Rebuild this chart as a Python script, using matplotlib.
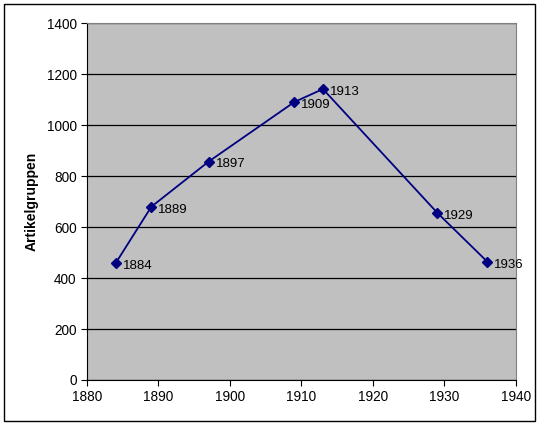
import matplotlib.pyplot as plt
from matplotlib.patches import Rectangle

plt.rcParams['font.family'] = ['Liberation Sans', 'DejaVu Sans']

years = [1884, 1889, 1897, 1909, 1913, 1929, 1936]
groups = [458, 680, 857, 1091, 1142, 656, 464]
labels = ['1884', '1889', '1897', '1909', '1913', '1929', '1936']

fig = plt.figure(figsize=(5.39, 4.25), dpi=100)
ax = fig.add_axes([0.1614, 0.1059, 0.7959, 0.8393])
ax.set_facecolor('#c0c0c0')

ax.plot(years, groups, color='#000080', lw=1.3, marker='D', ms=5, zorder=3)
for x, y, t in zip(years, groups, labels):
    ax.annotate(t, (x, y), xytext=(5, -2), textcoords='offset points',
                va='center', ha='left', fontsize=9.5, zorder=4)

ax.set_xlim(1880, 1940)
ax.set_ylim(0, 1400)
ax.set_xticks(range(1880, 1941, 10))
ax.set_yticks(range(0, 1401, 200))
ax.yaxis.grid(True, color='black', lw=0.9)
ax.set_axisbelow(True)
ax.tick_params(direction='out', length=4, labelsize=9.8, width=0.8)
ax.spines['top'].set_color('#808080')
ax.spines['right'].set_color('#808080')
ax.set_ylabel('Artikelgruppen', fontsize=10, fontweight='bold', labelpad=6)

fig.patches.append(Rectangle((4 / 539, 4 / 425), 531 / 539, 417 / 425,
                             transform=fig.transFigure, fill=False,
                             edgecolor='black', lw=1))

fig.savefig('out.png', dpi=100)
